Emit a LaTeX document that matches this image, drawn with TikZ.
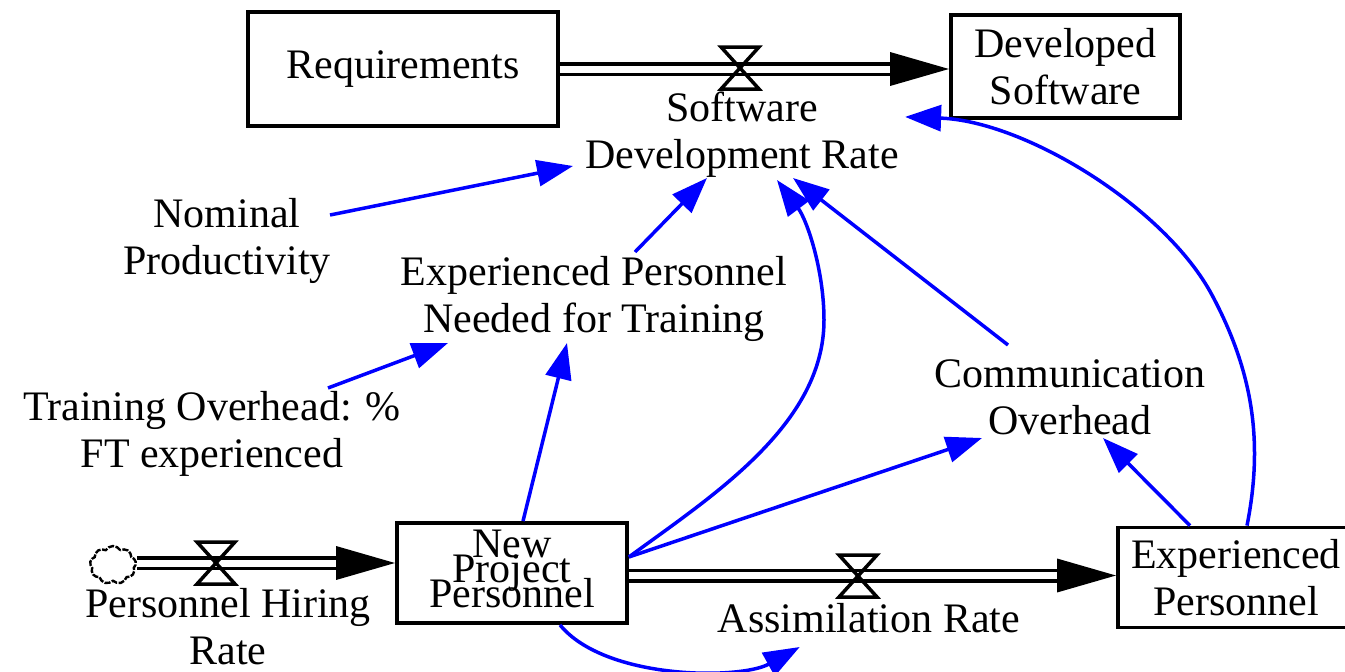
\documentclass[tikz,border=0pt]{standalone}
\usepackage{fontspec}
\setmainfont{Liberation Serif}
\usetikzlibrary{arrows.meta,calc,shapes.symbols}
\definecolor{linkblue}{RGB}{0,0,255}

\tikzset{
  valve/.pic={
    \draw[line width=3.5pt, line join=miter]
      (-19,-21) -- (19,-21) -- (0,0) -- (19,21) -- (-19,21) -- (0,0) -- cycle;
  }
}

\begin{document}
\begin{tikzpicture}[x=1pt,y=-1pt,
  every node/.style={font=\rmfamily\fontsize{42}{47}\selectfont, inner sep=0pt, align=center},
  stock/.style={draw, line width=3.8pt},
  link/.style={draw=linkblue, line width=3.5pt, -{Triangle[length=36pt,width=26pt]}},
  pipe/.style={draw=black, line width=3.5pt, double=white, double distance=7pt,
               -{Triangle[length=59pt,width=33pt]}},
  source/.style={cloud, cloud puffs=9, cloud puff arc=120, aspect=1.2, draw,
                 dash pattern=on 6pt off 1.5pt, line width=2.4pt,
                 minimum width=46pt, minimum height=38pt, font=\tiny}
]
\useasboundingbox (0,0) rectangle (1345,672);

% stocks
\node[stock, minimum width=310pt, minimum height=114pt] (req) at (403,69) {Requirements};
\node[stock, minimum width=229pt, minimum height=103pt] (dev) at (1065.5,66.5) {Developed\\Software};
\node[stock, minimum width=230pt, minimum height=100pt, text depth=8pt,
      font={\rmfamily\fontsize{42}{25}\selectfont\lineskiplimit=-100pt}]
      (npp) at (512,573) {New\\Project\\Personnel};
\node[stock, minimum width=236pt, minimum height=100pt] (ep) at (1236,577.5) {Experienced\\Personnel};

% source of the hiring flow
\node[source] (src) at (113,565) {};

% auxiliaries and rate names
\node (sdr)   at (742,135)  {Software\\Development Rate};
\node (nom)   at (227,241)  {Nominal\\Productivity};
\node (epnt)  at (594,299)  {Experienced Personnel\\Needed for Training};
\node (train) at (212,434)  {Training Overhead: \%\\FT experienced};
\node (comm)  at (1070,397) {Communication\\Overhead};
\node (hire)  at (228,627)  {Personnel Hiring\\Rate};
\node[anchor=base] (assim) at (869,632) {Assimilation Rate};

% flows
\coordinate (f1) at (req.east);
\coordinate (f2) at ($(src.east)+(0,-2)$);
\coordinate (f3) at ($(npp.east)+(0,2.5)$);
\draw[pipe] (f1) -- (f1 -| dev.west);
\draw[pipe] (f2) -- (f2 -| npp.west);
\draw[pipe] (f3) -- (f3 -| ep.west);
\pic at (740,68)  {valve};
\pic at (216,563) {valve};
\pic at (858,576) {valve};

% causal links
\draw[link] ($(nom.center)+(103,-26)$) -- ($(sdr.center)+(-169,31)$);
\draw[link] ($(epnt.center)+(41,-47)$) -- ($(sdr.center)+(-35,43)$);
\draw[link] ($(train.center)+(116,-46)$) -- ($(epnt.center)+(-146,44)$);
\draw[link] ($(npp.north)+(11,0)$) -- ($(epnt.center)+(-27,44)$);
\draw[link] ($(npp.east)+(0,-16)$) .. controls (712,496) and (824,425) .. (824,320)
            .. controls (824,270) and (807,220) .. ($(sdr.center)+(35,45)$);
\draw[link] ($(npp.east)+(0,-16)$) -- ($(comm.center)+(-88,41)$);
\draw[link] ($(comm.center)+(-62,-52)$) -- ($(sdr.center)+(51,43)$);
\draw[link] ($(ep.north)+(-46,0)$) -- ($(comm.center)+(33,41)$);
\draw[link] ($(ep.north)+(11,0)$) .. controls (1264,440) and (1252,370) .. (1212,295)
            .. controls (1165,207) and (1025,121) .. ($(dev.south west)+(-44,-3)$);
\draw[link] ($(npp.south)+(48,0)$) .. controls (605,680) and (740,680) .. ($(assim.base west)+(82,15)$);
\end{tikzpicture}
\end{document}
